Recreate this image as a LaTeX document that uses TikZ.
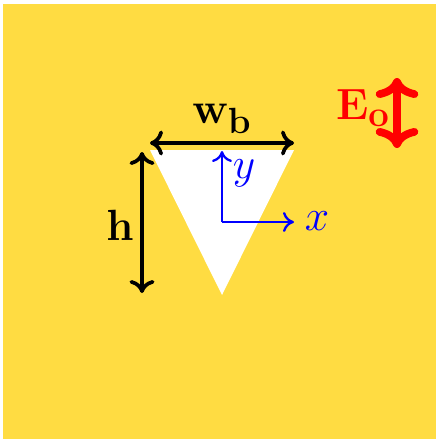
\documentclass[tikz,border=0pt]{standalone}
\usepackage{amsmath,amssymb}
\usetikzlibrary{positioning,arrows.meta,calc}
\definecolor{bgyellow}{RGB}{255,220,66}
\tikzset{
  dimarrow/.style={{Computer Modern Rightarrow[length=2.6mm,width=5mm]}-{Computer Modern Rightarrow[length=2.6mm,width=5mm]},line width=2.1pt,black},
  axis/.style={-{Computer Modern Rightarrow[length=2.2mm,width=4mm]},line width=1.3pt,blue},
  field/.style={{Computer Modern Rightarrow[length=4mm,width=8.5mm]}-{Computer Modern Rightarrow[length=4mm,width=8.5mm]},line width=4.4pt,red},
  dimlabel/.style={font=\fontsize{28}{30}\selectfont,inner sep=1pt},
  axlabel/.style={font=\fontsize{27}{29}\selectfont,text=blue,inner sep=1pt},
}
\begin{document}
\begin{tikzpicture}[x=0.02cm,y=-0.02cm]
  % ---- canvas ----
  \useasboundingbox (0,0) rectangle (436,439);
  \fill[bgyellow] (3,4) rectangle (436,439);
  % ---- aperture ----
  \fill[white] (150,150) -- (294,150) -- (222,295) -- cycle;
  % ---- dimensions ----
  \coordinate (wL) at (150,143);
  \coordinate (wR) at (294,143);
  \coordinate (hT) at (142,152);
  \coordinate (hB) at (142,293);
  \draw[dimarrow] (wL) -- (wR);
  \draw[dimarrow] (hT) -- (hB);
  \node[dimlabel] (wb) at (222,119) {$\mathbf{w_b}$};
  \node[dimlabel] (hh) at (120,225) {$\mathbf{h}$};
  % ---- axes ----
  \coordinate (O) at (222,222);
  \coordinate (yT) at (222,151);
  \coordinate (xR) at (294,222);
  \draw[axis] (O) -- (yT);
  \draw[axis] (O) -- (xR);
  \node[axlabel] (ylab) at (244,173) {$y$};
  \node[axlabel] (xlab) at (317,221) {$x$};
  % ---- polarisation ----
  \coordinate (eT) at (397,78);
  \coordinate (eB) at (397,148);
  \draw[field] (eT) -- (eB);
  \node[dimlabel,text=red] (Eo) at (363,108) {$\mathbf{E_o}$};
\end{tikzpicture}
\end{document}
